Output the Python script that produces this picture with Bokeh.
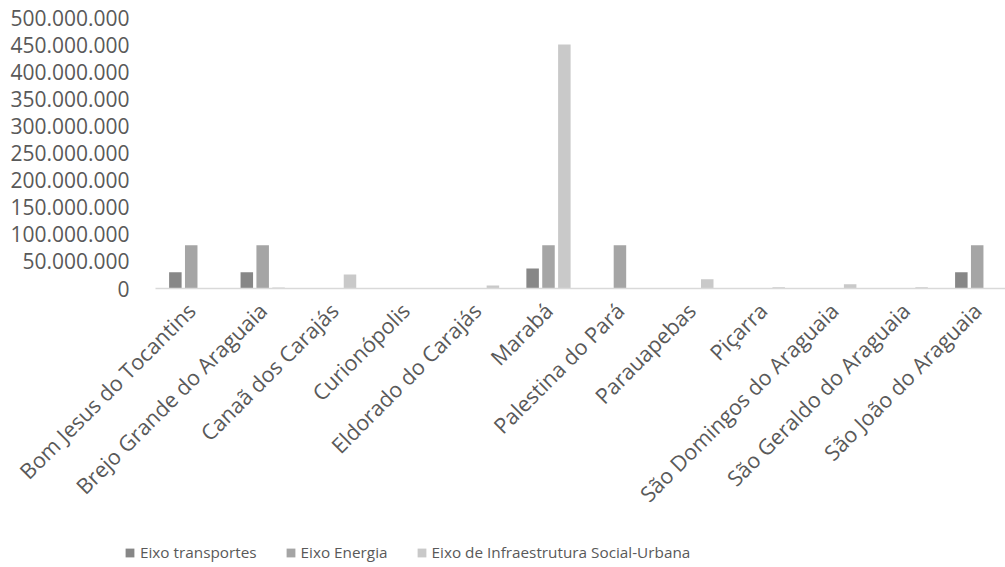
from bokeh.plotting import figure
from bokeh.layouts import column
from bokeh.models import ColumnDataSource, Legend, LegendItem, CustomJSTickFormatter, FixedTicker, Range1d
from bokeh.transform import dodge
from bokeh.embed import file_html
from bokeh.resources import INLINE
import math

municipios = ["Bom Jesus do Tocantins", "Brejo Grande do Araguaia", "Canaã dos Carajás",
              "Curionópolis", "Eldorado do Carajás", "Marabá", "Palestina do Pará",
              "Parauapebas", "Piçarra", "São Domingos do Araguaia", "São Geraldo do Araguaia",
              "São João do Araguaia"]
transportes = [30000000, 30000000, 0, 0, 0, 37000000, 0, 0, 0, 0, 0, 30000000]
energia = [80000000, 80000000, 0, 0, 0, 80000000, 80000000, 0, 0, 0, 0, 80000000]
infra_social = [0, 2000000, 26000000, 0, 5500000, 450000000, 0, 17000000, 2500000, 8000000, 2500000, 1000000]
series_names = ["Eixo transportes", "Eixo Energia", "Eixo de Infraestrutura Social-Urbana"]
series_colors = ["#878787", "#a5a5a5", "#c9c9c9"]
y_ticks = [0, 50000000, 100000000, 150000000, 200000000, 250000000, 300000000,
           350000000, 400000000, 450000000, 500000000]

centers = [i + 0.5 for i in range(len(municipios))]
src = ColumnDataSource(dict(x=centers, t=transportes, e=energia, s=infra_social))

FONT = "Open Sans"
TXT = "#595959"

p = figure(width=1005, height=520, x_range=Range1d(0, 11.896),
           y_range=Range1d(0, 500000000), output_backend="svg", toolbar_location=None,
           min_border_left=155, min_border_right=0, min_border_top=17, min_border_bottom=230)
p.frame_align = False
p.outline_line_color = None
p.background_fill_color = "white"
p.border_fill_color = "white"

w = 0.175
off = 0.222
for col, dx, color in zip(["t", "e", "s"], [-off, 0, off], series_colors):
    p.vbar(x=dodge("x", dx), top=col, width=w, source=src, fill_color=color, line_color=None)

p.xgrid.grid_line_color = None
p.ygrid.grid_line_color = None

p.yaxis.ticker = FixedTicker(ticks=y_ticks)
p.yaxis.formatter = CustomJSTickFormatter(code="return Math.round(tick).toLocaleString('en-US').replace(/,/g, '.');")
p.yaxis.axis_line_color = None
p.yaxis.major_tick_line_color = None
p.yaxis.minor_tick_line_color = None
p.yaxis.major_label_text_font = FONT
p.yaxis.major_label_text_font_size = "21px"
p.yaxis.major_label_text_color = TXT
p.yaxis.major_label_standoff = 20

p.xaxis.ticker = FixedTicker(ticks=centers)
p.xaxis.major_label_overrides = {c: m for c, m in zip(centers, municipios)}
p.xaxis.axis_line_color = "#d9d9d9"
p.xaxis.axis_line_width = 1.5
p.xaxis.major_tick_line_color = None
p.xaxis.minor_tick_line_color = None
p.xaxis.major_label_orientation = math.pi / 4
p.xaxis.major_label_text_font = FONT
p.xaxis.major_label_text_font_size = "21.5px"
p.xaxis.major_label_text_color = TXT
p.xaxis.major_label_standoff = 12

# legend strip (frame alignment with the main plot switched off)
lg = figure(width=1005, height=47, x_range=Range1d(0, 1), y_range=Range1d(0, 1),
            output_backend="svg", toolbar_location=None,
            min_border_left=0, min_border_right=0, min_border_top=0, min_border_bottom=0,
            x_axis_location=None, y_axis_location=None)
lg.frame_align = False
lg.outline_line_color = None
lg.xgrid.grid_line_color = None
lg.ygrid.grid_line_color = None
items = []
for name, color in zip(series_names, series_colors):
    r = lg.quad(left=[5], right=[6], bottom=[5], top=[6], fill_color=color, line_color=None)
    items.append(LegendItem(label=name, renderers=[r]))
legend = Legend(items=items, orientation="horizontal", location=(124, 5),
                label_text_font=FONT, label_text_font_size="15.3px", label_text_color=TXT,
                glyph_width=11, glyph_height=11, spacing=28, label_standoff=5,
                border_line_color=None, background_fill_alpha=0, margin=0, padding=2)
lg.add_layout(legend, "center")

layout = column(p, lg, spacing=0)
open("out.html", "w").write(file_html(layout, INLINE))
